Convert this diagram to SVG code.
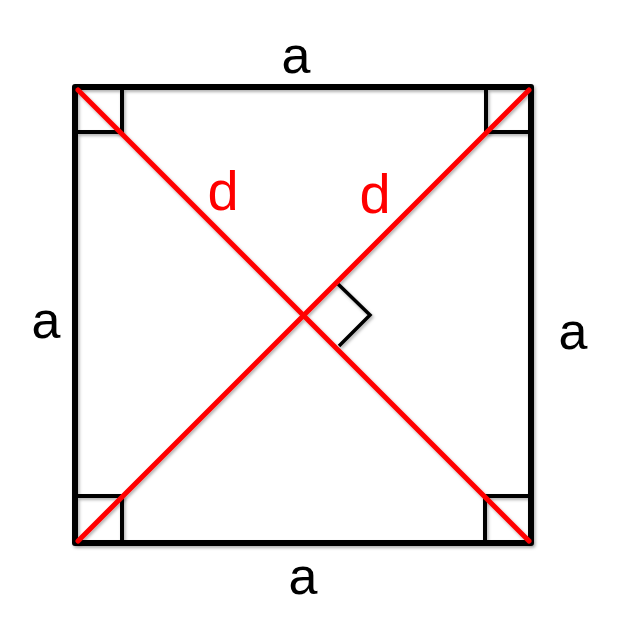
<svg xmlns="http://www.w3.org/2000/svg" width="623" height="619" viewBox="0 0 623 619">
  <defs>
    <filter id="sh" x="-10%" y="-10%" width="120%" height="120%">
      <feDropShadow dx="1.5" dy="2" stdDeviation="1.5" flood-color="#000" flood-opacity="0.3"/>
    </filter>
  </defs>
  <style>
    .sq { fill: none; stroke: #000; stroke-width: 6; stroke-linejoin: round; }
    .mark { fill: none; stroke: #000; stroke-width: 4; }
    .ra { fill: none; stroke: #000; stroke-width: 3.5; stroke-linejoin: miter; }
    .diag { stroke: #ff0000; stroke-width: 5; stroke-linecap: round; }
    .lbl { font-family: "Liberation Sans", Arial, sans-serif; font-size: 52px; fill: #000; text-anchor: middle; }
    .dl { font-family: "Liberation Sans", Arial, sans-serif; font-size: 56px; fill: #ff0000; text-anchor: middle; }
  </style>
  <rect width="623" height="619" fill="#fff"/>
  <g id="square" filter="url(#sh)">
    <rect class="sq" x="75" y="87" width="456" height="456"/>
    <g id="corner-marks">
      <polyline class="mark" points="122,87 122,132 75,132"/>
      <polyline class="mark" points="486,87 486,132 531,132"/>
      <polyline class="mark" points="75,496 122,496 122,543"/>
      <polyline class="mark" points="531,496 485,496 485,543"/>
    </g>
    <polyline id="right-angle" class="ra" points="338,284 370,315 339,346"/>
  </g>
  <g id="connectors" filter="url(#sh)">
    <line id="diag1" class="diag" x1="78" y1="90" x2="529" y2="541"/>
    <line id="diag2" class="diag" x1="529" y1="90" x2="78" y2="541"/>
  </g>
  <g id="labels">
    <text class="lbl" x="296" y="73">a</text>
    <text class="lbl" x="46" y="338">a</text>
    <text class="lbl" x="573" y="349">a</text>
    <text class="lbl" x="303" y="594">a</text>
    <text class="dl" x="223" y="210">d</text>
    <text class="dl" x="375" y="213">d</text>
  </g>
</svg>
